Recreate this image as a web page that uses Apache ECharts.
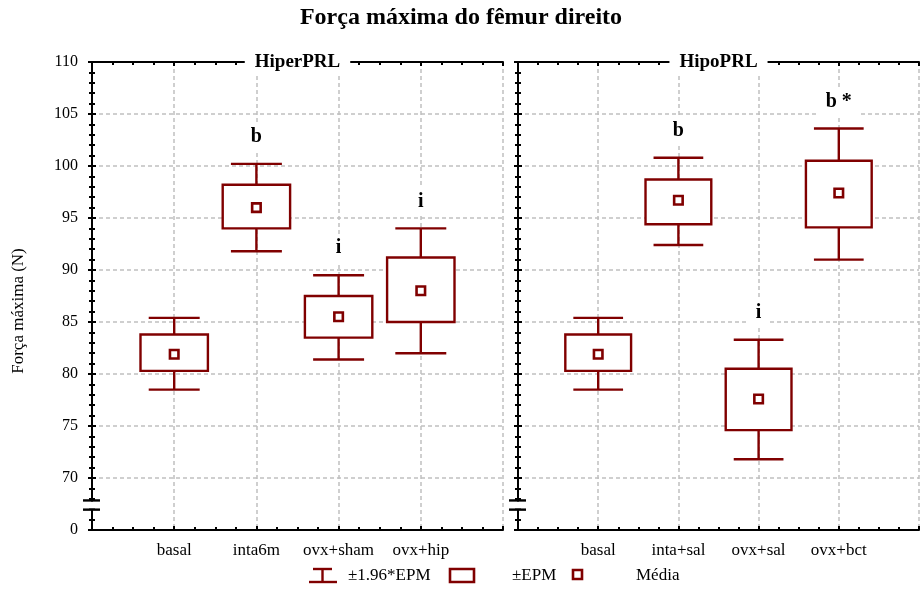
<!DOCTYPE html>
<html><head><meta charset="utf-8">
<script src="https://cdn.jsdelivr.net/npm/echarts@6/dist/echarts.min.js"></script>
<style>html,body{margin:0;padding:0;background:#fff}#c{width:922px;height:590px}</style>
</head><body><div id="c"></div>
<script>
const titleText = 'Força máxima do fêmur direito';
const yAxisName = 'Força máxima (N)';
const panelNames = ['HiperPRL', 'HipoPRL'];
const catsHiper = ['basal', 'inta6m', 'ovx+sham', 'ovx+hip'];
const catsHipo = ['basal', 'inta+sal', 'ovx+sal', 'ovx+bct'];
// lower whisker (−1.96*EPM), lower box (−EPM), mean, upper box (+EPM), upper whisker (+1.96*EPM)
const hiperWhiskerLow  = [78.5, 91.8, 81.4, 82.0];
const hiperBoxLow      = [80.3, 94.0, 83.5, 85.0];
const hiperMean        = [81.9, 96.0, 85.5, 88.0];
const hiperBoxHigh     = [83.8, 98.2, 87.5, 91.2];
const hiperWhiskerHigh = [85.4, 100.2, 89.5, 94.0];
const hiperLetters     = ['', 'b', 'i', 'i'];
const hipoWhiskerLow   = [78.5, 92.4, 71.8, 91.0];
const hipoBoxLow       = [80.3, 94.4, 74.6, 94.1];
const hipoMean         = [81.9, 96.7, 77.6, 97.4];
const hipoBoxHigh      = [83.8, 98.7, 80.5, 100.5];
const hipoWhiskerHigh  = [85.4, 100.8, 83.3, 103.6];
const hipoLetters      = ['', 'b', 'i', 'b *'];
const yMin = 65, yMax = 110, yStep = 5;
const brokenLabel = '0';      // label shown at the bottom of the broken axis
const breakValue = 67.4;      // where the axis break marker sits
const legendLabels = ['±1.96*EPM', '±EPM', 'Média'];

const RED = '#800000';
const FONT = '"Liberation Serif", "Times New Roman", serif';

function buildRows(wl, bl, m, bh, wh) {
  return wl.map((_, i) => [i + 1, wl[i], bl[i], m[i], bh[i], wh[i]]);
}

function makeBoxRender(letters) {
  return function (params, api) {
    const x = api.value(0);
    const unit = api.size([1, 0])[0];
    const bw = unit * 0.82 / 2, cw = unit * 0.62 / 2;
    const wl = api.coord([x, api.value(1)]);
    const bl = api.coord([x, api.value(2)]);
    const mn = api.coord([x, api.value(3)]);
    const bh = api.coord([x, api.value(4)]);
    const wh = api.coord([x, api.value(5)]);
    const cx = wl[0];
    const ls = { stroke: RED, lineWidth: 2.4, fill: null };
    const children = [
      { type: 'line', shape: { x1: cx, y1: wh[1], x2: cx, y2: bh[1] }, style: ls },
      { type: 'line', shape: { x1: cx, y1: bl[1], x2: cx, y2: wl[1] }, style: ls },
      { type: 'line', shape: { x1: cx - cw, y1: wh[1], x2: cx + cw, y2: wh[1] }, style: ls },
      { type: 'line', shape: { x1: cx - cw, y1: wl[1], x2: cx + cw, y2: wl[1] }, style: ls },
      { type: 'rect', shape: { x: cx - bw, y: bh[1], width: 2 * bw, height: bl[1] - bh[1] },
        style: { fill: '#fff', stroke: RED, lineWidth: 2.4 } },
      { type: 'rect', shape: { x: cx - 4.25, y: mn[1] - 4.25, width: 8.5, height: 8.5 },
        style: { fill: '#fff', stroke: RED, lineWidth: 2.6 } }
    ];
    const t = letters[params.dataIndex];
    if (t) {
      children.push({ type: 'text', x: cx, y: wh[1] - 13,
        style: { text: t, font: 'bold 20px ' + FONT, fill: '#000', align: 'center',
          verticalAlign: 'bottom', backgroundColor: '#fff', padding: [4, 8] } });
    }
    return { type: 'group', children };
  };
}

function makeDecoRender(panelName) {
  return function (params, api) {
    const b = api.coord([0, breakValue]);
    const top = api.coord([2.5, yMax]);
    const lw = 2.4;
    return { type: 'group', children: [
      { type: 'rect', shape: { x: b[0] - 3, y: b[1] - 3.5, width: 6, height: 7 }, style: { fill: '#fff' } },
      { type: 'line', shape: { x1: b[0] - 9, y1: b[1] - 4.6, x2: b[0] + 8, y2: b[1] - 4.6 }, style: { stroke: '#000', lineWidth: lw } },
      { type: 'line', shape: { x1: b[0] - 9, y1: b[1] + 4.6, x2: b[0] + 8, y2: b[1] + 4.6 }, style: { stroke: '#000', lineWidth: lw } },
      { type: 'text', x: top[0], y: top[1],
        style: { text: panelName, font: 'bold 19px ' + FONT, fill: '#000', align: 'center',
          verticalAlign: 'middle', backgroundColor: '#fff', padding: [2, 10] } }
    ] };
  };
}

function xAxes(gridIndex, cats) {
  const common = {
    gridIndex, type: 'value', min: 0, max: 5, interval: 1,
    axisLine: { show: true, lineStyle: { color: '#000', width: 2 } },
    axisTick: { show: true, inside: true, length: 4, lineStyle: { color: '#000', width: 2 } },
    minorTick: { show: true, splitNumber: 4, length: 3, lineStyle: { color: '#000', width: 2 } },
  };
  return [
    Object.assign({}, common, {
      position: 'bottom',
      axisLabel: { show: true, margin: 12, color: '#000', fontFamily: FONT, fontSize: 17,
        formatter: v => cats[v - 1] || '', showMinLabel: true, showMaxLabel: true },
      splitLine: { show: true, lineStyle: { color: '#c0c0c0', width: 1.5, type: [4, 3] } },
      minorSplitLine: { show: false }
    }),
    Object.assign({}, common, {
      position: 'top', axisLabel: { show: false }, splitLine: { show: false }
    })
  ];
}

function yAxes(gridIndex, withLabels) {
  const common = {
    gridIndex, type: 'value', min: yMin, max: yMax, interval: yStep,
    axisLine: { show: true, lineStyle: { color: '#000', width: 2 } },
    axisTick: { show: true, inside: true, length: 4, lineStyle: { color: '#000', width: 2 } },
    minorTick: { show: true, splitNumber: 5, length: 3, lineStyle: { color: '#000', width: 2 } },
  };
  const left = Object.assign({}, common, {
    position: 'left',
    axisLabel: { show: withLabels, margin: 14, color: '#000', fontFamily: FONT, fontSize: 16,
      formatter: v => (v === yMin ? brokenLabel : String(v)) },
    splitLine: { show: true, lineStyle: { color: '#c0c0c0', width: 1.5, type: [4, 3] } }
  });
  return [left, Object.assign({}, common, {
    position: 'right', axisLabel: { show: false }, splitLine: { show: false }
  })];
}

const chart = echarts.init(document.getElementById('c'), null, { renderer: 'canvas' });

const ly = 576;
const legendGraphic = [
  { type: 'text', x: 19, y: 311, rotation: Math.PI / 2,
    style: { text: yAxisName, font: '17px ' + FONT, fill: '#000', align: 'center', verticalAlign: 'middle' } },
  { type: 'line', shape: { x1: 313, y1: ly - 7, x2: 332, y2: ly - 7 }, style: { stroke: RED, lineWidth: 2.4 } },
  { type: 'line', shape: { x1: 322.5, y1: ly - 7, x2: 322.5, y2: ly + 6 }, style: { stroke: RED, lineWidth: 2.4 } },
  { type: 'line', shape: { x1: 309, y1: ly + 6, x2: 337, y2: ly + 6 }, style: { stroke: RED, lineWidth: 2.4 } },
  { type: 'text', x: 348, y: ly, style: { text: legendLabels[0], font: '17px ' + FONT, fill: '#000', verticalAlign: 'middle' } },
  { type: 'rect', shape: { x: 450, y: ly - 7, width: 24, height: 13 }, style: { fill: '#fff', stroke: RED, lineWidth: 2.6 } },
  { type: 'text', x: 512, y: ly, style: { text: legendLabels[1], font: '17px ' + FONT, fill: '#000', verticalAlign: 'middle' } },
  { type: 'rect', shape: { x: 573, y: ly - 6, width: 9, height: 9 }, style: { fill: '#fff', stroke: RED, lineWidth: 2.6 } },
  { type: 'text', x: 636, y: ly, style: { text: legendLabels[2], font: '17px ' + FONT, fill: '#000', verticalAlign: 'middle' } }
];

chart.setOption({
  animation: false,
  backgroundColor: '#fff',
  title: { text: titleText, left: 'center', top: 6, padding: 0,
    textStyle: { fontFamily: FONT, fontWeight: 'bold', fontSize: 24, color: '#000' } },
  grid: [
    { left: 92, top: 62, width: 411, height: 468, containLabel: false },
    { left: 518, top: 62, width: 411, height: 468, containLabel: false }
  ],
  xAxis: [...xAxes(0, catsHiper), ...xAxes(1, catsHipo)],
  yAxis: [...yAxes(0, true), ...yAxes(1, false)],
  series: [
    { type: 'custom', xAxisIndex: 0, yAxisIndex: 0, renderItem: makeBoxRender(hiperLetters),
      data: buildRows(hiperWhiskerLow, hiperBoxLow, hiperMean, hiperBoxHigh, hiperWhiskerHigh),
      encode: { x: 0, y: [1, 2, 3, 4, 5] }, clip: false, z: 3 },
    { type: 'custom', xAxisIndex: 2, yAxisIndex: 2, renderItem: makeBoxRender(hipoLetters),
      data: buildRows(hipoWhiskerLow, hipoBoxLow, hipoMean, hipoBoxHigh, hipoWhiskerHigh),
      encode: { x: 0, y: [1, 2, 3, 4, 5] }, clip: false, z: 3 },
    { type: 'custom', xAxisIndex: 0, yAxisIndex: 0, renderItem: makeDecoRender(panelNames[0]),
      data: [[0, breakValue]], clip: false, z: 4, silent: true },
    { type: 'custom', xAxisIndex: 2, yAxisIndex: 2, renderItem: makeDecoRender(panelNames[1]),
      data: [[0, breakValue]], clip: false, z: 4, silent: true }
  ],
  graphic: legendGraphic
});
</script>
</body></html>
